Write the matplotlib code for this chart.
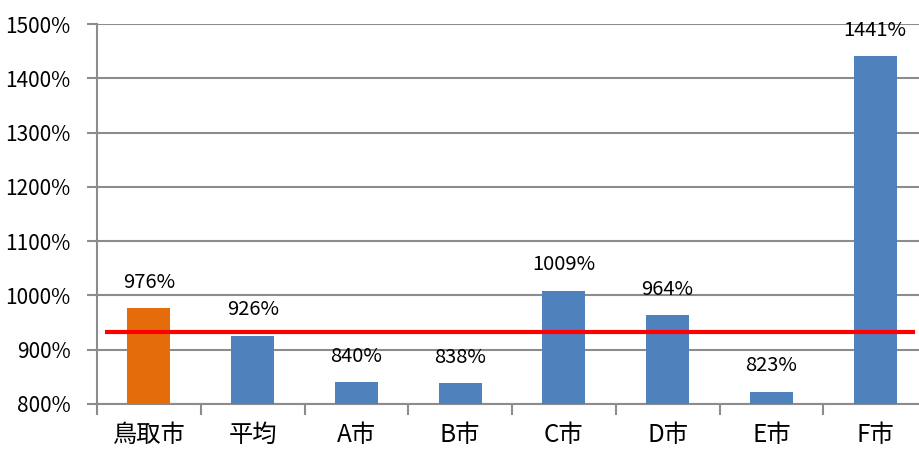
import matplotlib
matplotlib.use("Agg")
import matplotlib.pyplot as plt
import numpy as np

plt.rcParams["font.family"] = ["Noto Sans CJK JP", "DejaVu Sans"]

cities = ["鳥取市", "平均", "A市", "B市", "C市", "D市", "E市", "F市"]
values = [976, 926, 840, 838, 1009, 964, 823, 1441]
bar_labels = ["976%", "926%", "840%", "838%", "1009%", "964%", "823%", "1441%"]
ref_line = 932
y_ticks = [800, 900, 1000, 1100, 1200, 1300, 1400, 1500]

orange = "#E46C0A"
blue = "#4F81BD"
grid_grey = "#8C8C8C"


def main():
    fig = plt.figure(figsize=(9.19, 4.5), dpi=100)
    ax = fig.add_axes([97 / 919, 46 / 450, 830 / 919, 380 / 450])

    x = np.arange(len(cities))
    colors = [orange] + [blue] * (len(cities) - 1)
    ax.bar(x, [v - 800 for v in values], bottom=800, width=0.415, color=colors, zorder=3)

    for xi, v, lab in zip(x, values, bar_labels):
        ax.annotate(lab, (xi, v), xytext=(0, 11), textcoords="offset points",
                    ha="center", va="bottom", fontsize=14.5, color="black")

    ax.axhline(ref_line, xmin=10 / 830, xmax=816 / 830, color="#FF0000", lw=3, zorder=4)

    ax.set_xlim(-0.5, len(cities) - 0.5)
    ax.set_ylim(800, 1500)
    ax.set_yticks(y_ticks)
    ax.set_yticklabels([f"{t}%" for t in y_ticks], fontsize=15)
    ax.yaxis.grid(True, color=grid_grey, lw=1.5, zorder=0)
    ax.tick_params(axis="y", length=7, width=1.5, color=grid_grey, pad=12)

    ax.set_xticks(x)
    ax.set_xticklabels(cities, fontsize=17.5)
    ax.tick_params(axis="x", which="major", length=0, pad=13)
    ax.set_xticks(np.arange(-0.5, len(cities), 1.0), minor=True)
    ax.tick_params(axis="x", which="minor", length=8, width=1.5, color=grid_grey)

    for side in ["top", "right"]:
        ax.spines[side].set_visible(False)
    for side in ["left", "bottom"]:
        ax.spines[side].set_color(grid_grey)
        ax.spines[side].set_linewidth(1.5)

    fig.savefig("out.png", dpi=100)


if __name__ == "__main__":
    main()
